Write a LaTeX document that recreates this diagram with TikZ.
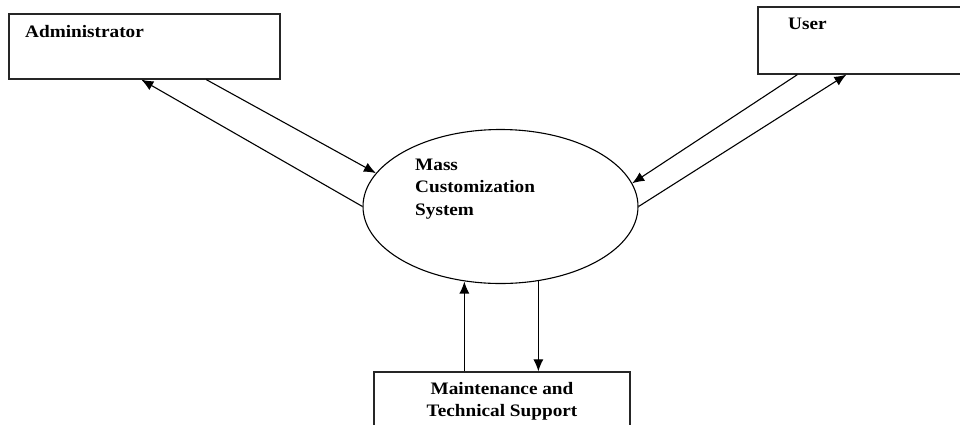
\documentclass[tikz,border=0pt]{standalone}
\usepackage{fontspec}
\setmainfont{Liberation Serif}[FakeStretch=1.1]
\usetikzlibrary{shapes.geometric,arrows.meta,calc}
\begin{document}
\begin{tikzpicture}[x=1pt,y=-1pt,
  box/.style={draw=black!85,line width=1.3pt,rectangle,inner sep=0pt},
  lbl/.style={font=\fontsize{17.5}{22.5}\selectfont\bfseries,inner sep=0pt,align=left},
  flow/.style={line width=1.1pt,-{Latex[length=12pt,width=10pt]}}]
\useasboundingbox (0,0) rectangle (960,424);
\clip (0,0) rectangle (960,424);
\node[box,minimum width=271pt,minimum height=65pt] (admin) at (144.5,46.5) {};
\node[box,minimum width=212pt,minimum height=67pt] (user) at (864,40.5) {};
\node[box,minimum width=256pt,minimum height=80pt] (maint) at (502,412) {};
\node[draw,line width=1.1pt,ellipse,minimum width=275pt,minimum height=154pt,inner sep=0pt] (sys) at (500.5,206.5) {};
\node[lbl,anchor=base west] (admint) at (25,37) {Administrator};
\node[lbl,anchor=base west] (usert) at (788,29) {User};
\node[lbl,anchor=base west] (syst) at (415,170) {Mass};
\node[lbl,anchor=base west] (syst2) at (415,192.5) {Customization};
\node[lbl,anchor=base west] (syst3) at (415,215) {System};
\node[lbl,anchor=base] (maintt) at (502,394) {Maintenance and};
\node[lbl,anchor=base] (maintt2) at (502,416.5) {Technical Support};
\coordinate (a1) at ($(admin.south west)+(133,0)$);
\coordinate (a2) at ($(admin.south west)+(198,0)$);
\coordinate (u1) at ($(user.south west)+(40,0)$);
\coordinate (u2) at ($(user.south west)+(89,0)$);
\coordinate (m1) at ($(maint.north west)+(91,0)$);
\coordinate (m2) at ($(maint.north west)+(165,0)$);
\draw[flow] (sys.180) -- (a1);
\draw[flow] (a2) -- (sys.165.5);
\draw[flow] (u1) -- (sys.10.5);
\draw[flow] (sys.0) -- (u2);
\draw[flow] (m1) -- (m1 |- sys.245);
\draw[flow] (m2 |- sys.297) -- (m2);
\end{tikzpicture}
\end{document}
